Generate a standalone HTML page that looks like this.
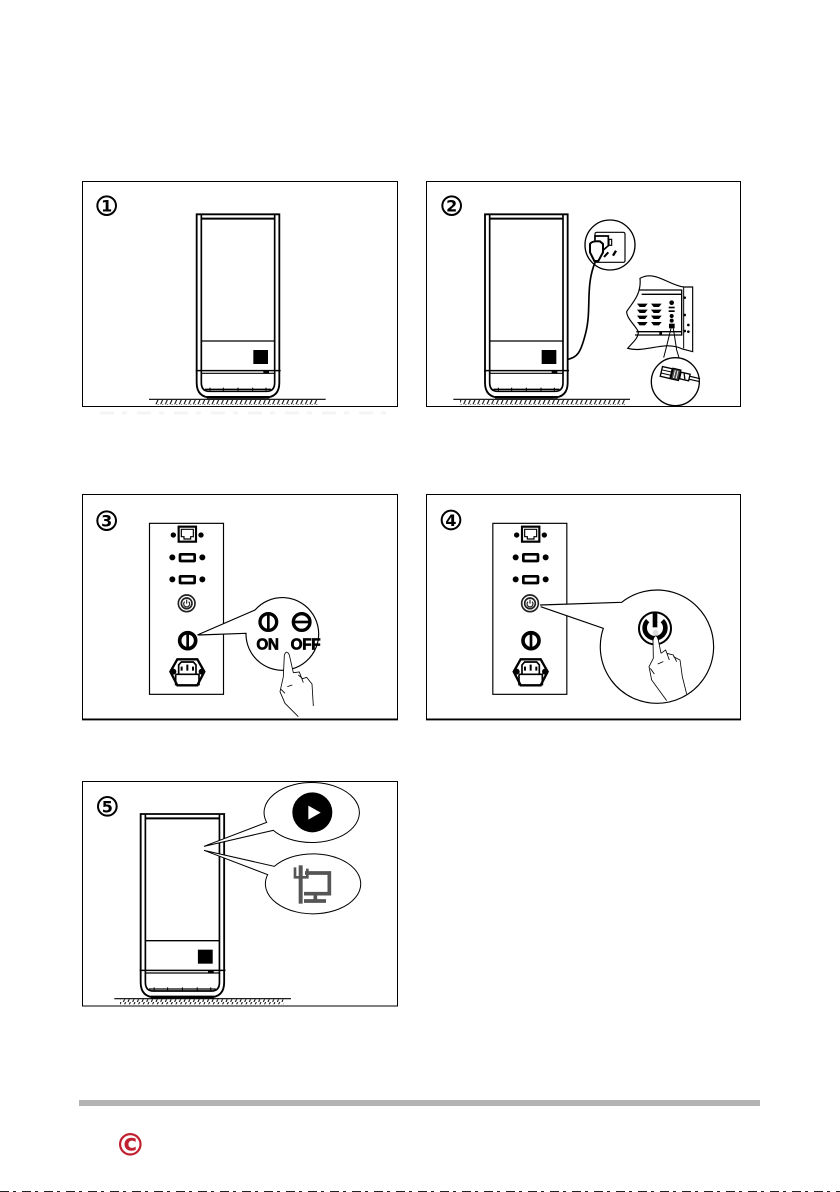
<!DOCTYPE html>
<html><head><meta charset="utf-8"><style>
html,body{margin:0;padding:0;background:#fff}
svg{display:block}
text{font-family:"Liberation Sans",sans-serif;font-weight:bold;fill:#000}
.n{font-family:"DejaVu Sans",sans-serif}
</style></head><body>
<svg width="840" height="1192" viewBox="0 0 840 1192" xmlns="http://www.w3.org/2000/svg">
<defs>
<pattern id="h" patternUnits="userSpaceOnUse" width="14" height="16"><path d="M11,0L4,16" stroke="#000" stroke-width="3" fill="none"/></pattern>
<g id="cab" fill="none" stroke="#000">
  <path d="M0,0V505Q0,550 45,550H203Q248,550 248,505V0Z" stroke-width="5.500"/>
  <path d="M30,549H218" stroke-width="8"/>
  <path d="M14,0V505Q14,531 38,531H210Q234,531 234,505V0" stroke-width="5"/>
  <path d="M25,525H223" stroke-width="4"/>
  <path d="M40,520V532M80,520V532M124,520V532M168,520V532M208,520V532" stroke-width="3"/>
  <path d="M14,13H234" stroke-width="6"/>
  <path d="M14,380H234" stroke-width="4"/>
  <path d="M-3,469H252" stroke-width="4.500"/>
  <path d="M14,477H234" stroke-width="3.500"/>
  <rect x="170" y="407" width="44" height="42" fill="#000" stroke="none"/>
  <rect x="200" y="469" width="17" height="9" fill="#000" stroke="none"/>
</g>
<g id="ports">
  <rect x="208.500" y="100" width="222" height="513" fill="none" stroke="#000" stroke-width="3.500"/>
  <rect x="296" y="110" width="52" height="45" fill="#fff" stroke="#000" stroke-width="6.500"/>
  <path d="M304,118H340V140H332V147H312V140H304Z" fill="none" stroke="#000" stroke-width="3.500"/>
  <circle cx="280" cy="135" r="8"/><circle cx="363" cy="135" r="8"/>
  <rect x="300" y="193" width="44" height="20" rx="2" fill="#fff" stroke="#000" stroke-width="8"/>
  <circle cx="277" cy="202" r="9"/><circle cx="367" cy="202" r="9"/>
  <rect x="300" y="259" width="44" height="20" rx="2" fill="#fff" stroke="#000" stroke-width="8"/>
  <circle cx="277" cy="268" r="9"/><circle cx="367" cy="268" r="9"/>
  <circle cx="320" cy="340" r="25" fill="#fff" stroke="#222" stroke-width="5"/>
  <circle cx="320" cy="340" r="16" fill="#fff" stroke="#222" stroke-width="5"/>
  <path d="M314,335A9,9 0 1 0 326,335M320,329V341" fill="none" stroke="#222" stroke-width="3.500"/>
  <circle cx="323" cy="452" r="24" fill="#fff" stroke="#000" stroke-width="11"/>
  <path d="M323,430V474" stroke="#000" stroke-width="8"/>
  <path d="M271,545L292,508H352L373,545L352,586H292Z" fill="#fff" stroke="#000" stroke-width="7"/>
  <path d="M296,553V525L304,516H340L348,525V553" fill="none" stroke="#000" stroke-width="5"/>
  <path d="M287,553H357V586M287,553V586" fill="none" stroke="#000" stroke-width="5"/>
  <path d="M322,524V542M305,530V542M339,530V542" stroke="#000" stroke-width="6"/>
  <circle cx="280" cy="545" r="9"/><circle cx="365" cy="545" r="9"/>
</g>
</defs>

<g fill="none" stroke="#000" stroke-width="1">
  <rect x="82.500" y="181.500" width="315" height="225"/>
  <rect x="426.500" y="181.500" width="314" height="225"/>
  <rect x="82.500" y="494.500" width="315" height="224.500"/>
  <rect x="426.500" y="494.500" width="314" height="224.500"/>
  <rect x="82.500" y="781.500" width="315" height="224.500"/>
  <path d="M82,719.500H398M426,719.500H741" stroke-width="1.800"/>
</g>
<path d="M100,413H390" stroke="#f4f4f4" stroke-width="3" stroke-dasharray="14 8 5 10"/>

<!-- panel 1 -->
<g transform="translate(80,175) scale(.33333)">
  <circle cx="80" cy="92" r="28" fill="none" stroke="#000" stroke-width="6"/>
  <text class="n" x="80" y="110" font-size="48" text-anchor="middle">1</text>
  <use href="#cab" x="350" y="118"/>
  <path d="M207,673H737" stroke="#000" stroke-width="3.500"/>
  <rect x="225" y="675" width="490" height="15" fill="url(#h)"/>
</g>

<!-- panel 2 -->
<g transform="translate(425,175) scale(.33333)">
  <circle cx="80" cy="92" r="28" fill="none" stroke="#000" stroke-width="6"/>
  <text class="n" x="80" y="110" font-size="48" text-anchor="middle">2</text>
  <use href="#cab" x="180" y="118"/>
  <path d="M85,673H615" stroke="#000" stroke-width="3.500"/>
  <rect x="105" y="675" width="495" height="15" fill="url(#h)"/>
  <circle cx="555" cy="210" r="75" fill="#fff" stroke="#000" stroke-width="4"/>
  <rect x="510" y="172" width="90" height="90" rx="5" fill="#fff" stroke="#000" stroke-width="3.500"/>
  <rect x="552" y="193" width="8" height="18" fill="#fff" stroke="#000" stroke-width="3.500"/>
  <path d="M564,242L573,227" stroke="#000" stroke-width="7"/>
  <path d="M537,246L550,232" stroke="#000" stroke-width="6"/>
  <path d="M510,183H550V212L535,225H510Z" fill="#fff" stroke="#000" stroke-width="5"/>
  <path d="M495,207Q500,197 525,199L534,207V232L520,258H508L495,232Z" fill="#fff" stroke="#000" stroke-width="6"/>
  <path d="M512,258C480,330 500,400 483,470S455,545 430,553" fill="none" stroke="#000" stroke-width="5"/>
  <path d="M645,310C690,285 730,330 776,336H803V530L772,522C720,495 660,535 608,520C625,500 640,490 640,470C630,450 605,430 605,410C620,385 650,360 645,310Z" fill="#fff" stroke="#000" stroke-width="3.500"/>
  <path d="M776,336V520" stroke="#000" stroke-width="3"/>
  <path d="M642,345H770V480H630M650,358H770M634,470H770" fill="none" stroke="#000" stroke-width="4"/>
  <g fill="#000">
    <path d="M636,386H668L660,396H644Z"/><path d="M678,386H710L702,396H686Z"/>
    <path d="M636,404H668L660,414H644Z"/><path d="M678,404H710L702,414H686Z"/>
    <path d="M636,422H668L660,432H644Z"/><path d="M678,422H710L702,432H686Z"/>
    <path d="M636,441H668L660,451H644Z"/><path d="M678,441H710L702,451H686Z"/>
    <circle cx="740" cy="383" r="7"/><rect x="731" y="395" width="18" height="5"/><rect x="731" y="406" width="18" height="5"/><circle cx="740" cy="423" r="6"/><circle cx="740" cy="437" r="6"/><rect x="732" y="446" width="17" height="14"/>
    <circle cx="790" cy="450" r="4"/><circle cx="790" cy="470" r="4"/>
    <circle cx="779" cy="368" r="4"/><circle cx="779" cy="420" r="4"/><circle cx="779" cy="468" r="4"/>
    <rect x="703" y="470" width="8" height="10"/>
  </g>
  <path d="M738,460L722,525L716,548M745,460L755,525L762,548" stroke="#000" stroke-width="3" fill="none"/>
  <circle cx="751" cy="620" r="72" fill="#fff" stroke="#000" stroke-width="4"/>
  <g transform="rotate(13 760 600)" stroke="#000" fill="#fff">
    <rect x="708" y="586" width="30" height="30" stroke-width="4"/>
    <path d="M708,596H738M708,606H738" stroke-width="3"/>
    <rect x="740" y="584" width="24" height="32" fill="#444" stroke-width="4"/>
    <path d="M748,588V612M756,588V612" stroke="#eee" stroke-width="3"/>
    <rect x="766" y="590" width="28" height="20" stroke-width="4"/>
    <path d="M776,592L782,608" stroke-width="4"/>
    <path d="M794,596H826M794,605H826" stroke-width="3.500"/>
  </g>
</g>

<!-- panel 3 -->
<g transform="translate(80,490) scale(.33333)">
  <circle cx="80" cy="92" r="28" fill="none" stroke="#000" stroke-width="6"/>
  <text class="n" x="80" y="110" font-size="48" text-anchor="middle">3</text>
  <use href="#ports"/>
  <path d="M352,435L525,360A109,109 0 1 1 498,430L355,435" fill="#fff" stroke="#000" stroke-width="3.500"/>
  <circle cx="565" cy="396" r="25" fill="#fff" stroke="#000" stroke-width="10"/>
  <path d="M565,374V418" stroke="#000" stroke-width="8"/>
  <circle cx="665" cy="396" r="25" fill="#fff" stroke="#000" stroke-width="10"/>
  <path d="M643,396H687" stroke="#000" stroke-width="8"/>
  <text x="529" y="478" font-size="46" letter-spacing="-1" stroke="#000" stroke-width="2">ON</text>
  <text x="632" y="478" font-size="46" letter-spacing="-1" stroke="#000" stroke-width="2">OFF</text>
  <path d="M612,495Q620,478 628,495L640,548L660,546L668,570L680,562L695,582L700,645L665,680L655,680L615,640L600,605L610,560Z" fill="#fff" stroke="none"/>
  <path d="M610,560L613,495Q620,478 628,495L640,548M610,560L600,605L615,640L655,680M640,548L658,546L670,578M655,555L668,566L680,562L696,582L700,648M622,590L637,585M603,598L615,610" fill="none" stroke="#000" stroke-width="2.500"/>
</g>

<!-- panel 4 -->
<g transform="translate(425,490) scale(.33333)">
  <circle cx="78" cy="90" r="28" fill="none" stroke="#000" stroke-width="6"/>
  <text class="n" x="78" y="108" font-size="48" text-anchor="middle">4</text>
  <use href="#ports" x="-5"/>
  <path d="M345,345L590,337A170,170 0 1 1 535,415L347,350" fill="#fff" stroke="#000" stroke-width="3.500"/>
  <circle cx="690" cy="415" r="48" fill="#fff" stroke="#000" stroke-width="6"/>
  <path d="M668,392A31,31 0 1 0 712,392" fill="none" stroke="#000" stroke-width="14"/>
  <path d="M690,368V412" stroke="#000" stroke-width="14"/>
  <path d="M684,450Q692,425 700,450L708,490L725,478L745,495L765,510L772,560L785,610L725,632L680,570L672,530L685,505Z" fill="#fff" stroke="none"/>
  <path d="M685,505L684,450Q692,425 700,450L708,490M685,505L672,530L680,570L725,632M708,490L722,480L733,510M725,490L745,495L755,515M745,500L765,510L772,560L785,612M698,522L715,515M676,535L688,552" fill="none" stroke="#000" stroke-width="2.500"/>
  <circle cx="692" cy="428" r="9" fill="#ddd"/>
</g>

<!-- panel 5 -->
<g transform="translate(80,778) scale(.33333)">
  <circle cx="82" cy="85" r="28" fill="none" stroke="#000" stroke-width="6"/>
  <text class="n" x="82" y="103" font-size="48" text-anchor="middle">5</text>
  <use href="#cab" transform="translate(182,108) scale(1.01,1)"/>
  <path d="M103,662H633" stroke="#000" stroke-width="3.500"/>
  <rect x="120" y="664" width="490" height="15" fill="url(#h)"/>
  <path d="M372,205L580,157A143,90 0 1 0 560,133Z" fill="#fff" stroke="#000" stroke-width="3"/>
  <path d="M372,217L583,265A143,90 0 1 1 563,290Z" fill="#fff" stroke="#000" stroke-width="3"/>
  <circle cx="697" cy="103" r="60" fill="#000"/>
  <path d="M685,83L722,104L685,125Z" fill="#fff"/>
  <g fill="none" stroke="#555">
    <path d="M662,262V377" stroke-width="12"/>
    <path d="M645,268V298H682V272" stroke-width="8"/>
    <path d="M675,285H748V347H672" stroke-width="11"/>
    <path d="M706,347V366" stroke-width="11"/>
    <path d="M672,369H738" stroke-width="11"/>
  </g>
</g>

<!-- footer -->
<rect x="79" y="1100" width="681" height="6" fill="#b3b3b3"/>
<circle cx="130.300" cy="1144.300" r="10.200" fill="none" stroke="#c0202f" stroke-width="2.200"/>
<text class="n" x="130.300" y="1150.500" font-size="17" text-anchor="middle" style="fill:#c0202f;stroke:#c0202f;stroke-width:.6">C</text>
<path d="M0,1191.500H840" stroke="#222" stroke-width="1" stroke-dasharray="9 4 3 6"/>
</svg>
</body></html>
